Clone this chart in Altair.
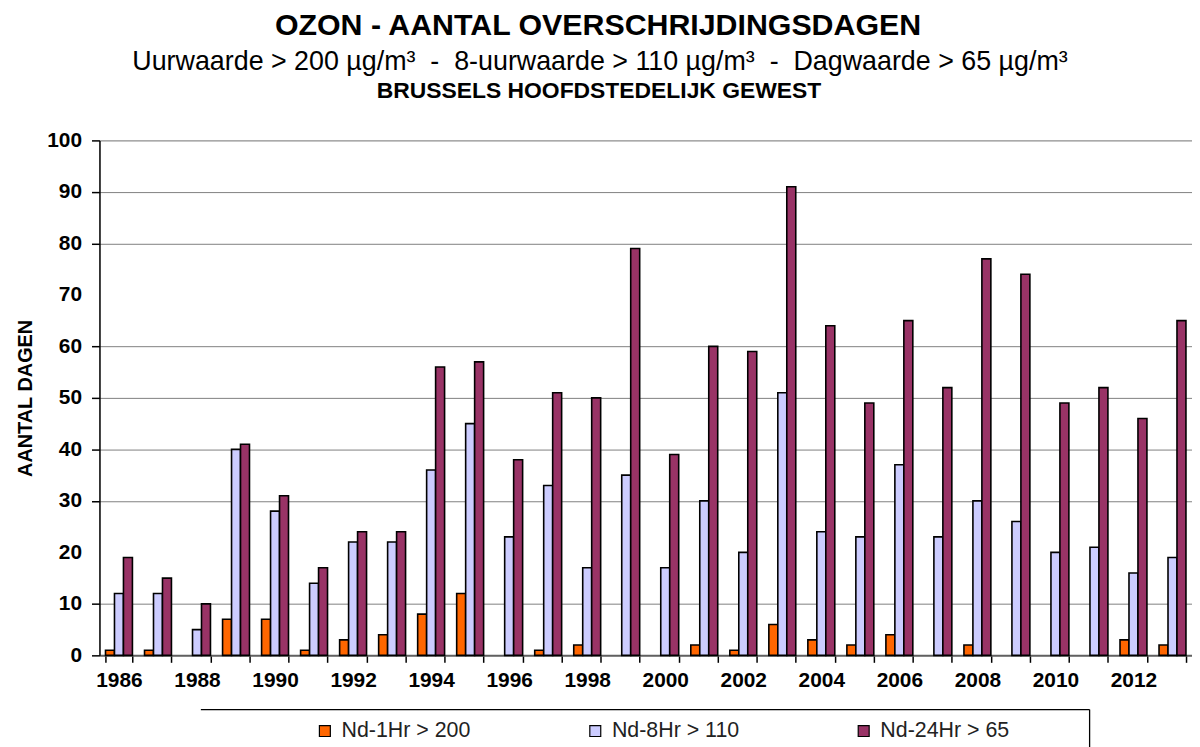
import altair as alt
import pandas as pd

# ---- data ----
years = list(range(1986, 2014))
nd_1hr = [1, 1, 0, 7, 7, 1, 3, 4, 8, 12, 0, 1, 2, 0, 0, 2, 1, 6, 3, 2, 4, 0, 2, 0, 0, 0, 3, 2]
nd_8hr = [12, 12, 5, 40, 28, 14, 22, 22, 36, 45, 23, 33, 17, 35, 17, 30, 20, 51, 24, 23, 37, 23, 30, 26, 20, 21, 16, 19]
nd_24hr = [19, 15, 10, 41, 31, 17, 24, 24, 56, 57, 38, 51, 50, 79, 39, 60, 59, 91, 64, 49, 65, 52, 77, 74, 49, 52, 46, 65]

series_names = ["Nd-1Hr > 200", "Nd-8Hr > 110", "Nd-24Hr > 65"]
series_colors = ["#FF6600", "#CCCCFF", "#993366"]

title_main = "OZON - AANTAL OVERSCHRIJDINGSDAGEN"
title_sub = "Uurwaarde > 200 µg/m³  -  8-uurwaarde > 110 µg/m³  -  Dagwaarde > 65 µg/m³"
title_region = "BRUSSELS HOOFDSTEDELIJK GEWEST"
y_title = "AANTAL DAGEN"
y_ticks = list(range(0, 101, 10))

FONT = "Liberation Sans"

rows = []
for i, yr in enumerate(years):
    for name, vals in zip(series_names, [nd_1hr, nd_8hr, nd_24hr]):
        rows.append({"year": str(yr), "series": name, "value": vals[i]})
df = pd.DataFrame(rows)
year_labels = [str(y) for y in years]

bars = (
    alt.Chart(df)
    .transform_filter("datum.value > 0")
    .mark_bar(stroke="black", strokeWidth=1.6)
    .encode(
        x=alt.X(
            "year:O",
            sort=year_labels,
            scale=alt.Scale(domain=year_labels, paddingInner=0.31, paddingOuter=0.155),
            axis=alt.Axis(
                title=None,
                labelExpr="toNumber(datum.value) % 2 == 0 ? datum.label : ''",
                labelAngle=0,
                labelFont=FONT,
                labelFontSize=21,
                labelFontWeight="bold",
                labelColor="black",
                labelPadding=7,
                labelOverlap=False,
                tickSize=7,
                tickColor="black",
                tickWidth=1.5,
                tickBand="extent",
                domainColor="#606060",
                domainWidth=2,
                grid=False,
            ),
        ),
        xOffset=alt.XOffset(
            "series:N",
            sort=series_names,
            scale=alt.Scale(domain=series_names, paddingInner=0, paddingOuter=0),
        ),
        y=alt.Y(
            "value:Q",
            scale=alt.Scale(domain=[0, 100], nice=False),
            axis=alt.Axis(
                values=y_ticks,
                title=y_title,
                titleFont=FONT,
                titleFontSize=20,
                titleFontWeight="bold",
                titleColor="black",
                titleAngle=270,
                titleX=-68,
                titleY=259,
                titleAlign="center",
                titleBaseline="alphabetic",
                labelFont=FONT,
                labelFontSize=21,
                labelFontWeight="bold",
                labelColor="black",
                labelPadding=10,
                tickSize=8,
                tickColor="black",
                tickWidth=1.5,
                tickOpacity={"condition": {"test": "datum.value == 70 || datum.value == 20", "value": 0}, "value": 1},
                domainColor="black",
                domainWidth=1.5,
                grid=True,
                gridColor="#808080",
                gridWidth=1,
                gridOpacity={"condition": {"test": "datum.value == 70 || datum.value == 20 || datum.value == 0", "value": 0}, "value": 1},
            ),
        ),
        color=alt.Color(
            "series:N",
            sort=series_names,
            scale=alt.Scale(domain=series_names, range=series_colors),
            legend=alt.Legend(
                title=None,
                orient="none",
                legendX=216,
                legendY=583,
                direction="horizontal",
                columns=3,
                columnPadding=114,
                symbolType="square",
                symbolSize=121,
                symbolStrokeColor="black",
                symbolStrokeWidth=1.2,
                symbolOpacity=1,
                labelFont=FONT,
                labelFontSize=21.5,
                labelColor="#222222",
                labelOffset=6,
                labelLimit=400,
                padding=0,
            ),
        ),
    )
)

def text_line(txt, size, weight, x, y):
    # keep the reference's double spaces visible (SVG collapses plain ones)
    shown = txt.replace("  ", "\u00a0\u00a0")
    return (
        alt.Chart(pd.DataFrame({"t": [shown]}))
        .mark_text(font=FONT, fontSize=size, fontWeight=weight, color="black",
                   align="center", baseline="alphabetic")
        .encode(text="t:N", x=alt.value(x), y=alt.value(y))
    )

t1 = text_line(title_main, 30.5, "bold", 501.5, -106)
t2 = text_line(title_sub, 27, "normal", 503.5, -71)
t3 = text_line(title_region, 23, "bold", 502.5, -43)

dummy = pd.DataFrame({"a": [0]})
box_top = alt.Chart(dummy).mark_rule(color="black", strokeWidth=1.3).encode(
    x=alt.value(102), x2=alt.value(996), y=alt.value(572.5))
box_right = alt.Chart(dummy).mark_rule(color="black", strokeWidth=1.3).encode(
    x=alt.value(996), y=alt.value(572.5), y2=alt.value(650))

chart = (
    alt.layer(bars, t1, t2, t3, box_top, box_right)
    .properties(
        width=1099,
        height=518,
        autosize=alt.AutoSizeParams(type="none"),
        padding={"left": 92, "top": 131, "right": 0, "bottom": 90},
    )
    .configure_view(stroke=None)
    .configure(background="white")
)

chart.save("out.html", embed_options={"renderer": "svg", "actions": False})
